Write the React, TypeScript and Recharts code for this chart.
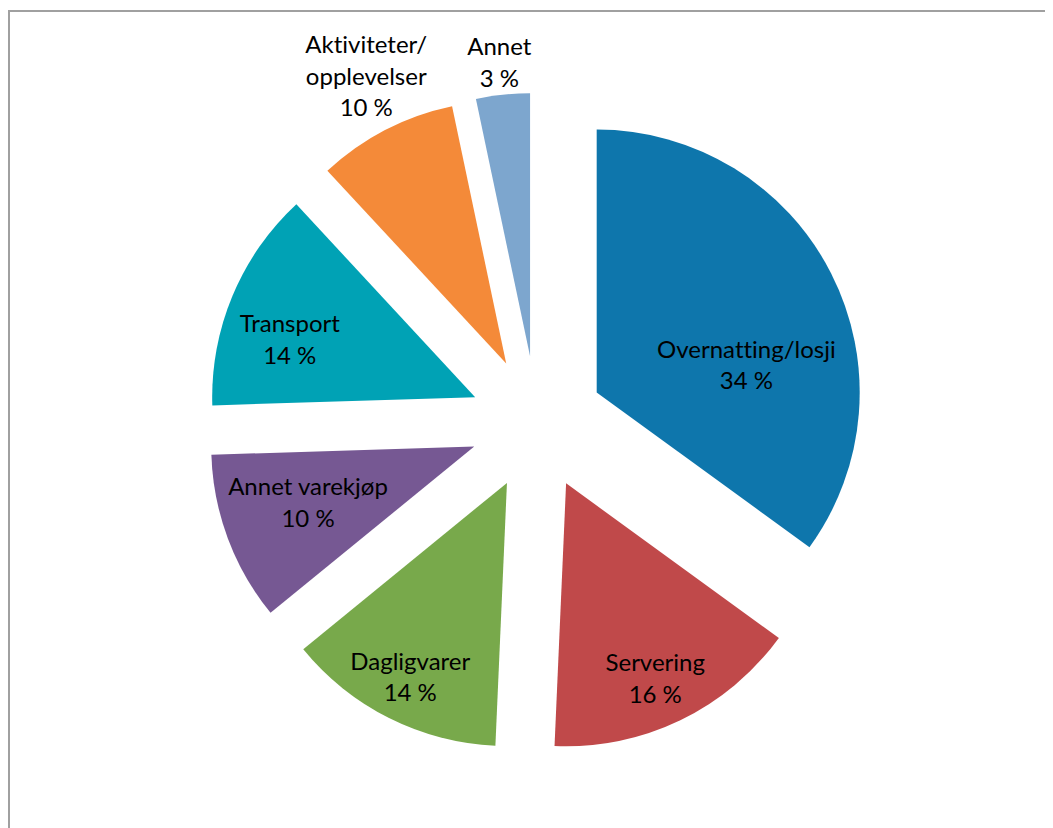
import React from "react";
import { PieChart, Pie } from "recharts";

// ---- data ----
const categories = [
  "Overnatting/losji",
  "Servering",
  "Dagligvarer",
  "Annet varekjøp",
  "Transport",
  "Aktiviteter/opplevelser",
  "Annet",
];
const shares = [35.0, 15.7, 13.4, 10.4, 13.6, 8.6, 3.3];
const percentLabels = ["34 %", "16 %", "14 %", "10 %", "14 %", "10 %", "3 %"];

// ---- styling / layout ----
const colors = ["#0E76AC", "#C0494A", "#78A94B", "#765893", "#00A2B5", "#F48A39", "#7DA6CE"];
const labelPlacement = [
  { r: 0.58, shift: 16 },
  { r: 0.81, shift: 1 },
  { r: 0.82, shift: 0 },
  { r: 0.665, shift: 2.4 },
  { r: 0.74, shift: -5 },
  { r: 1.22, shift: 1.5 },
  { r: 1.13, shift: 0 },
];

const W = 1045;
const H = 820;
const CX = 529;
const CY = 415;
const R = 263;
const EXPLODE = 67;
const LINE_H = 31.5;
const FONT = "Lato, 'Noto Sans', sans-serif";
const RAD = Math.PI / 180;

const total = shares.reduce((a, b) => a + b, 0);

function splitName(name: string): string[] {
  if (name.length > 18 && name.includes("/")) {
    const i = name.indexOf("/");
    return [name.slice(0, i + 1), name.slice(i + 1)];
  }
  return [name];
}

const slices = (() => {
  let cum = 0;
  return shares.map((v, i) => {
    const startT = (cum / total) * 360;
    cum += v;
    const endT = (cum / total) * 360;
    const midT = (startT + endT) / 2;
    const cx = CX + EXPLODE * Math.sin(midT * RAD);
    const cy = CY - EXPLODE * Math.cos(midT * RAD);
    return { i, startT, endT, midT, cx, cy };
  });
})();

function SliceLabel({ idx }: { idx: number }) {
  const s = slices[idx];
  const p = labelPlacement[idx];
  const t = (s.midT + p.shift) * RAD;
  const x = s.cx + p.r * R * Math.sin(t);
  const y = s.cy - p.r * R * Math.cos(t);
  const lines = [...splitName(categories[idx]), percentLabels[idx]];
  const y0 = y - ((lines.length - 1) / 2) * LINE_H;
  return (
    <text
      x={x}
      y={y0}
      textAnchor="middle"
      dominantBaseline="central"
      fontFamily={FONT}
      fontSize={24}
      fill="#000"
      style={{ fontVariantLigatures: "none" }}
    >
      {lines.map((ln, k) => (
        <tspan key={k} x={x} y={y0 + k * LINE_H} dominantBaseline="central">
          {ln}
        </tspan>
      ))}
    </text>
  );
}

export default function App() {
  return (
    <div style={{ position: "relative", width: W, height: H, overflow: "hidden" }}>
      <div
        style={{
          position: "absolute",
          left: 0,
          top: 2,
          width: W + 60,
          height: H + 60,
          border: "2px solid #a0a0a0",
          boxSizing: "border-box",
        }}
      />
      <div style={{ position: "absolute", left: 0, top: 0 }}>
        <PieChart width={W} height={H} margin={{ top: 0, right: 0, bottom: 0, left: 0 }}>
          {slices.map((s) => (
            <Pie
              key={categories[s.i]}
              data={[{ name: categories[s.i], value: shares[s.i] }]}
              dataKey="value"
              nameKey="name"
              cx={s.cx}
              cy={s.cy}
              innerRadius={0}
              outerRadius={R}
              startAngle={90 - s.startT}
              endAngle={90 - s.endT}
              fill={colors[s.i]}
              stroke="none"
              labelLine={false}
              label={() => <SliceLabel idx={s.i} />}
              isAnimationActive={false}
            />
          ))}
        </PieChart>
      </div>
    </div>
  );
}
